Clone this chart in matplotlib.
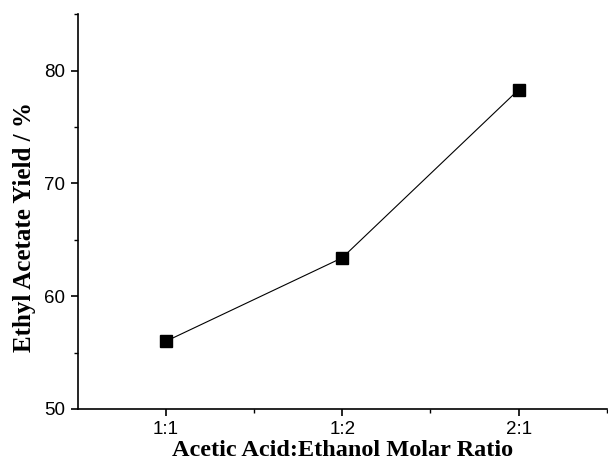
import matplotlib.pyplot as plt
from matplotlib.ticker import MultipleLocator, FixedLocator

# Molar ratio categories and ethyl acetate yield (%)
ratios = ['1:1', '1:2', '2:1']
positions = [1, 2, 3]
yields = [56.0, 63.4, 78.3]

fig = plt.figure(figsize=(6.08, 4.70), dpi=100)
ax = fig.add_axes([0.128, 0.130, 0.870, 0.840])

ax.plot(positions, yields, color='black', linewidth=0.8, marker='s',
        markersize=8, markerfacecolor='black', markeredgecolor='black')

ax.set_xlim(0.5, 3.5)
ax.set_ylim(50, 85)
ax.set_xticks(positions)
ax.set_xticklabels(ratios, fontfamily='Liberation Sans', fontsize=13.5)
ax.xaxis.set_minor_locator(FixedLocator([1.5, 2.5, 3.5]))
ax.set_yticks([50, 60, 70, 80])
ax.set_yticklabels(['50', '60', '70', '80'], fontfamily='Liberation Sans', fontsize=13.5)
ax.yaxis.set_minor_locator(MultipleLocator(5))

ax.tick_params(which='major', direction='out', length=5, width=1.2, color='black', pad=4)
ax.tick_params(which='minor', direction='out', length=3, width=1.0, color='black')

ax.spines['top'].set_visible(False)
ax.spines['right'].set_visible(False)
ax.spines['left'].set_linewidth(1.2)
ax.spines['bottom'].set_linewidth(1.2)

ax.set_xlabel('Acetic Acid:Ethanol Molar Ratio', fontfamily='Liberation Serif',
              fontweight='bold', fontsize=17.5, labelpad=1.5)
ax.set_ylabel('Ethyl Acetate Yield / %', fontfamily='Liberation Serif',
              fontweight='bold', fontsize=18)
ax.yaxis.set_label_coords(-0.080, 0.46)

fig.savefig('out.png', dpi=100)
